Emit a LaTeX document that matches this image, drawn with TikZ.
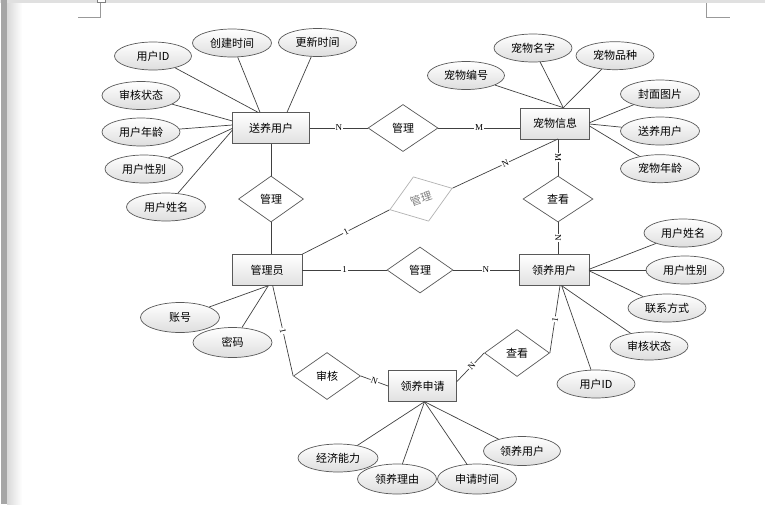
\documentclass[tikz,border=0pt]{standalone}
\usepackage{fontspec}
\setmainfont{Noto Sans CJK SC}
\newfontfamily\labfont{Liberation Serif}
\usetikzlibrary{shapes.geometric}
\begin{document}
\begin{tikzpicture}[x=1pt,y=-1pt,
 every node/.style={font=\fontsize{11}{13}\selectfont},
 ent/.style={rectangle, draw=black!65, line width=0.8pt, top color=white, bottom color=black!12, minimum width=70pt, minimum height=31pt, inner sep=0pt},
 attr/.style={ellipse, draw=black!65, line width=0.7pt, top color=white, bottom color=black!13, minimum width=78pt, minimum height=28pt, inner sep=0pt},
 rel/.style={diamond, draw=black!65, line width=0.7pt, fill=white, minimum width=67pt, minimum height=47pt, inner sep=0pt},
 conn/.style={draw=black!75, line width=0.7pt},
 lab/.style={font=\labfont\fontsize{9}{10}\selectfont, fill=white, inner sep=0.8pt, sloped},
 frame/.style={draw=black!40, line width=0.7pt}
]
\useasboundingbox (0,0) rectangle (765,504);
% page frame
\fill[black!12] (0,0) rectangle (765,3);
\fill[black!35] (1,0) rectangle (7,504);
\shade[left color=black!15, right color=white] (7,3) rectangle (22,504);
\draw[frame] (78,17) -- (100,17) -- (100,3);
\draw[frame] (706,3) -- (706,17) -- (730,17);
\draw[draw=black!50, line width=0.5pt, fill=white] (97,-1) rectangle (105,2);

% entities
\node[ent, minimum width=77pt] (syh) at (271,128) {送养用户};
\node[ent, minimum width=69pt] (cw) at (555,123.5) {宠物信息};
\node[ent] (gly) at (267,270) {管理员};
\node[ent] (lyh) at (554,270) {领养用户};
\node[ent, minimum width=68pt] (lysq) at (422.5,386) {领养申请};

% relations
\node[rel, minimum width=70pt] (m1) at (403,128) {管理};
\node[rel, minimum width=65pt, minimum height=46pt] (m2) at (271,199) {管理};
\node[rel, draw=black!30, text=black!50, rotate=19, minimum width=66pt] (m3) at (421,199) {管理};
\node[rel, minimum width=70pt, minimum height=46pt] (ck1) at (558,199) {查看};
\node[rel, minimum width=66pt, minimum height=46pt] (m4) at (420,270) {管理};
\node[rel] (sh) at (327,376) {审核};
\node[rel, minimum width=65pt] (ck2) at (517,353) {查看};

% attributes of 送养用户
\node[attr, minimum width=77pt] (a1) at (153,56) {用户ID};
\node[attr, minimum width=79pt] (a2) at (232,43) {创建时间};
\node[attr] (a3) at (317.5,42.5) {更新时间};
\node[attr] (a4) at (141,95.5) {审核状态};
\node[attr] (a5) at (141,132) {用户年龄};
\node[attr] (a6) at (144,169) {用户性别};
\node[attr, minimum width=79pt] (a7) at (166,207) {用户姓名};
% attributes of 宠物信息
\node[attr, minimum width=77pt] (b1) at (466,75.5) {宠物编号};
\node[attr] (b2) at (533,48) {宠物名字};
\node[attr] (b3) at (615,55.7) {宠物品种};
\node[attr, minimum width=79pt] (b4) at (660,94) {封面图片};
\node[attr, minimum width=79pt] (b5) at (660,131) {送养用户};
\node[attr, minimum width=79pt] (b6) at (660,168.7) {宠物年龄};
% attributes of 领养用户
\node[attr] (c1) at (683,233) {用户姓名};
\node[attr] (c2) at (685,270) {用户性别};
\node[attr] (c3) at (667,308) {联系方式};
\node[attr] (c4) at (649,346) {审核状态};
\node[attr] (c5) at (596,384) {用户ID};
% attributes of 管理员
\node[attr, minimum width=79pt, minimum height=30pt] (d1) at (180,317.5) {账号};
\node[attr, minimum width=79pt, minimum height=30pt] (d2) at (232.5,342.5) {密码};
% attributes of 领养申请
\node[attr, minimum width=80pt] (e1) at (338,458) {经济能力};
\node[attr, minimum width=79pt, minimum height=30pt] (e2) at (397,479) {领养理由};
\node[attr, minimum width=79pt, minimum height=30pt] (e3) at (477,479) {申请时间};
\node[attr, minimum width=77pt, minimum height=29pt] (e4) at (522,451) {领养用户};

% attach points
\coordinate (pa1) at (258,112.3);
\coordinate (pa2) at (260,112.3);
\coordinate (pa3) at (287,112.3);
\coordinate (pa4) at (232.5,121);
\coordinate (pa5) at (232.5,125);
\coordinate (pa6) at (232.5,128.3);
\coordinate (pa7) at (232.5,130);
\coordinate (pb) at (563.3,107.7);
\coordinate (pb4) at (589.5,122.7);
\coordinate (pb5) at (589.5,124);
\coordinate (pb6) at (589.5,126);
\coordinate (pc1) at (589,269.3);
\coordinate (pc2) at (589,270);
\coordinate (pc3) at (589,270.7);
\coordinate (pc4) at (561.7,285.7);
\coordinate (pd) at (268.3,285.7);
\coordinate (pe) at (424.5,401.7);
\coordinate (cwb) at (558,139);
\coordinate (glyb) at (272.7,285.7);
\coordinate (lysqr) at (456.7,381.7);
\coordinate (lyhb) at (560,285.7);

% attribute links
\foreach \a/\p in {a1/pa1,a2/pa2,a3/pa3,a4/pa4,a5/pa5,a6/pa6,a7/pa7,
  b1/pb,b2/pb,b3/pb,b4/pb4,b5/pb5,b6/pb6,
  c1/pc1,c2/pc2,c3/pc3,c4/pc4,c5/pc4,
  d1/pd,d2/pd,
  e1/pe,e2/pe,e3/pe,e4/pe}
  \draw[conn] (\a) -- (\p);

% relationship links
\draw[conn] (syh.east) -- node[lab]{N} (m1.west);
\draw[conn] (m1.east) -- node[lab]{M} (m1.east -| cw.west);
\draw[conn] (syh.south) -- (m2.north);
\draw[conn] (m2.south) -- (m2.south |- gly.north);
\draw[conn] (gly.north east) -- node[lab]{1} (m3.west);
\draw[conn] (m3.east) -- node[lab]{N} (cwb);
\draw[conn] (cwb) -- node[lab]{M} (ck1.north);
\draw[conn] (ck1.south) -- node[lab]{N} (ck1.south |- lyh.north);
\draw[conn] (gly.east) -- node[lab]{1} (m4.west);
\draw[conn] (m4.east) -- node[lab]{N} (lyh.west);
\draw[conn] (glyb) -- node[lab]{1} (sh.west);
\draw[conn] (sh.east) -- node[lab]{N} (lysq.west);
\draw[conn] (lysqr) -- node[lab, pos=0.55]{N} (ck2.west);
\draw[conn] (ck2.east) -- node[lab]{1} (lyhb);
\end{tikzpicture}
\end{document}
